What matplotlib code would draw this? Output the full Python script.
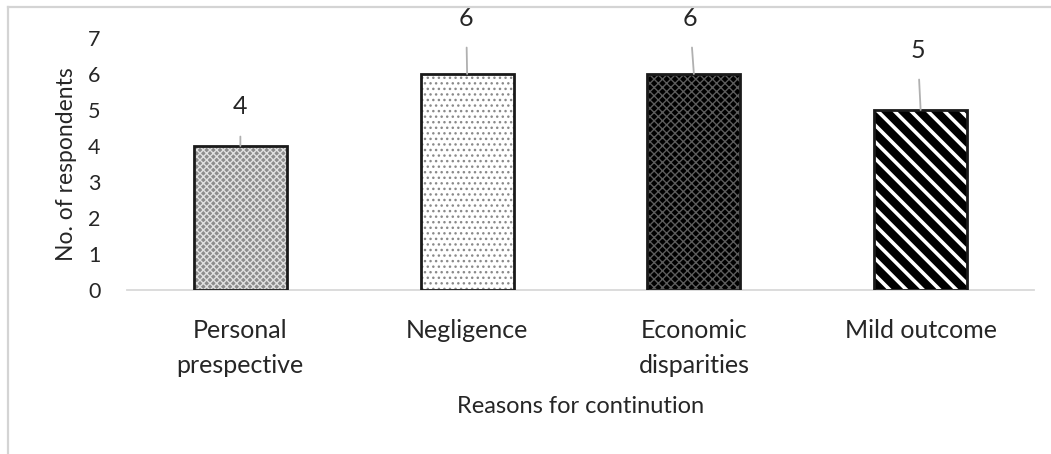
import matplotlib
matplotlib.use('Agg')
import matplotlib.pyplot as plt
from matplotlib.lines import Line2D

plt.rcParams['font.family'] = ['Lato', 'DejaVu Sans']

categories = ['Personal\nprespective', 'Negligence', 'Economic\ndisparities', 'Mild outcome']
values = [4, 6, 6, 5]

# look of each bar: face colour, hatch, hatch colour
faces = ['#8c8c8c', '#ffffff', '#000000', '#000000']
hatches = ['xxxxx', '...', 'xxxx', '\\\\']
hatch_cols = ['#e0e0e0', '#8a8a8a', '#5c5c5c', '#ffffff']
# label offsets (pixels) from the bar top, for the callouts
label_off = [(0, 39), (-1, 56), (-4, 56), (-3, 60)]

fig = plt.figure(figsize=(10.51, 4.54), dpi=100)
ax = fig.add_axes([127 / 1051, 1 - 290 / 454, 907 / 1051, 252 / 454])

x = list(range(len(categories)))
for i in x:
    plt.rcParams['hatch.linewidth'] = 2.6 if hatches[i] == '\\\\' else 1.0
    ax.bar(i, values[i], width=0.41, color=faces[i], hatch=hatches[i],
           edgecolor=hatch_cols[i], linewidth=0, zorder=2)
bars = ax.bar(x, values, width=0.41, fill=False, edgecolor='#1a1a1a',
              linewidth=2, zorder=3)

for b, v, off in zip(bars, values, label_off):
    cx = b.get_x() + b.get_width() / 2
    ax.annotate(str(v), xy=(cx, v), xytext=(off[0] * 0.72, off[1] * 0.72),
                textcoords='offset points', ha='center', va='center',
                fontsize=18, color='#262626',
                arrowprops=dict(arrowstyle='-', color='#b0b0b0', lw=1.3,
                                shrinkA=11, shrinkB=0))

ax.set_xlim(-0.5, 3.5)
ax.set_ylim(0, 7)
ax.set_yticks(range(0, 8))
ax.set_xticks(x)
ax.set_xticklabels(categories, fontsize=18, color='#262626', linespacing=1.6)
ax.tick_params(axis='y', length=0, pad=19, labelsize=15.5, labelcolor='#262626')
ax.tick_params(axis='x', length=0, pad=21)
for s in ['top', 'right', 'left']:
    ax.spines[s].set_visible(False)
ax.spines['bottom'].set_color('#d9d9d9')
ax.spines['bottom'].set_linewidth(1.3)

ax.set_xlabel('Reasons for continution', fontsize=17, color='#262626', labelpad=14)
ax.set_ylabel('No. of respondents', fontsize=16.5, color='#262626', labelpad=8)

# thin frame around the chart area (left and top only visible)
fig.add_artist(Line2D([8 / 1051, 8 / 1051], [0, 1 - 7 / 454], color='#d4d4d4', lw=1.6))
fig.add_artist(Line2D([8 / 1051, 1], [1 - 7 / 454, 1 - 7 / 454], color='#d4d4d4', lw=1.6))

fig.savefig('out.png', dpi=100)
